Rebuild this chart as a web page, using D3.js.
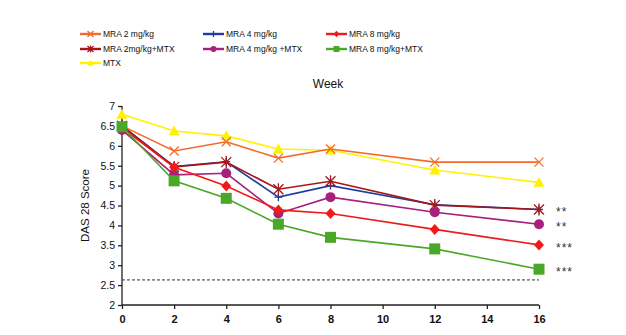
<!DOCTYPE html>
<html>
<head>
<meta charset="utf-8">
<script src="https://d3js.org/d3.v7.min.js"></script>
<style>
  body { margin: 0; background: #fff; }
  text { font-family: "Liberation Sans", Arial, sans-serif; }
</style>
</head>
<body>
<svg width="626" height="335"></svg>
<script>
// data
var weeks = [0, 2, 4, 6, 8, 12, 16];
var mra2     = [6.5, 5.87, 6.1, 5.69, 5.92, 5.59, 5.59];
var mra4     = [6.5, 5.48, 5.6, 4.71, 5.0, 4.52, 4.4];
var mra8     = [6.45, 5.46, 4.99, 4.39, 4.3, 3.9, 3.51];
var mra2mtx  = [6.5, 5.47, 5.59, 4.91, 5.11, 4.51, 4.4];
var mra4mtx  = [6.4, 5.27, 5.31, 4.3, 4.71, 4.33, 4.03];
var mra8mtx  = [6.48, 5.12, 4.68, 4.03, 3.7, 3.41, 2.9];
var mtx      = [6.79, 6.37, 6.25, 5.92, 5.89, 5.39, 5.08];
var yTicks = [2, 2.5, 3, 3.5, 4, 4.5, 5, 5.5, 6, 6.5, 7];
var xTicks = [0, 2, 4, 6, 8, 10, 12, 14, 16];
var remission = 2.63;
var stars = [["**", 4.4], ["**", 4.03], ["***", 3.51], ["***", 2.9]];

var series = [
  {name: "MRA 2 mg/kg", vals: mra2, color: "#f26b2a", mark: "x", col: 0, row: 0},
  {name: "MRA 4 mg/kg", vals: mra4, color: "#1f3d9c", mark: "plus", col: 1, row: 0},
  {name: "MRA 8 mg/kg", vals: mra8, color: "#ee1b1b", mark: "diamond", col: 2, row: 0},
  {name: "MRA 2mg/kg+MTX", vals: mra2mtx, color: "#a3161a", mark: "star", col: 0, row: 1},
  {name: "MRA 4 mg/kg +MTX", vals: mra4mtx, color: "#a6207c", mark: "circle", col: 1, row: 1},
  {name: "MRA 8 mg/kg+MTX", vals: mra8mtx, color: "#4aa828", mark: "square", col: 2, row: 1},
  {name: "MTX", vals: mtx, color: "#fff200", mark: "triangle", col: 0, row: 2}
];
// draw order: back to front
var drawOrder = [6, 0, 1, 3, 4, 2, 5];

var svg = d3.select("svg");
var x = d3.scaleLinear().domain([0, 16]).range([122, 539]);
var y = d3.scaleLinear().domain([2, 7]).range([305, 106]);

// axes
var xAxis = svg.append("g")
    .attr("transform", "translate(0," + y(2) + ")")
    .call(d3.axisBottom(x).tickValues(xTicks).tickSize(4).tickPadding(6).tickFormat(d3.format("d")));
xAxis.selectAll("text").style("font-size", "11px").style("font-weight", "bold").attr("fill", "#111");
var yAxis = svg.append("g")
    .attr("transform", "translate(" + x(0) + ",0)")
    .call(d3.axisLeft(y).tickValues(yTicks).tickSize(4).tickPadding(3).tickFormat(function(d) { return String(d); }));
yAxis.selectAll("text").style("font-size", "10.5px").attr("fill", "#111");
svg.selectAll(".domain, .tick line").attr("stroke", "#222").attr("stroke-width", 1.3);
xAxis.select(".domain").attr("d", "M" + x(0) + ",0H" + x(16));
yAxis.select(".domain").attr("d", "M0," + y(7) + "V" + y(2));

// remission line
svg.append("line")
    .attr("x1", x(0)).attr("x2", x(16))
    .attr("y1", y(remission)).attr("y2", y(remission))
    .attr("stroke", "#333").attr("stroke-width", 1)
    .attr("stroke-dasharray", "3,2");

// titles
svg.append("text").attr("x", 328).attr("y", 88).attr("text-anchor", "middle")
    .style("font-size", "12px").attr("fill", "#111").text("Week");
svg.append("text").attr("transform", "translate(89," + y(4.5) + ") rotate(-90)")
    .attr("text-anchor", "middle").style("font-size", "11.5px").attr("fill", "#111").text("DAS 28 Score");

function drawMarker(g, type, color, size) {
  var s = size;
  if (type === "x") {
    g.append("path").attr("d", "M" + (-s) + "," + (-s) + "L" + s + "," + s + "M" + (-s) + "," + s + "L" + s + "," + (-s))
      .attr("stroke", color).attr("stroke-width", 1.3).attr("fill", "none");
  } else if (type === "plus") {
    g.append("path").attr("d", "M" + (-s) + ",0H" + s + "M0," + (-s) + "V" + s)
      .attr("stroke", color).attr("stroke-width", 1.3).attr("fill", "none");
  } else if (type === "star") {
    g.append("path").attr("d", "M" + (-s) + "," + (-s) + "L" + s + "," + s + "M" + (-s) + "," + s + "L" + s + "," + (-s) + "M0," + (-s * 1.2) + "V" + (s * 1.2))
      .attr("stroke", color).attr("stroke-width", 1.3).attr("fill", "none");
  } else if (type === "diamond") {
    g.append("path").attr("d", "M0," + (-s * 1.1) + "L" + s + ",0L0," + (s * 1.1) + "L" + (-s) + ",0Z")
      .attr("fill", color);
  } else if (type === "circle") {
    g.append("circle").attr("r", s).attr("fill", color);
  } else if (type === "square") {
    g.append("rect").attr("x", -s).attr("y", -s).attr("width", 2 * s).attr("height", 2 * s).attr("fill", color);
  } else if (type === "triangle") {
    g.append("path").attr("d", "M0," + (-s) + "L" + s + "," + (s * 0.8) + "L" + (-s) + "," + (s * 0.8) + "Z").attr("fill", color);
  }
}
var markSize = {x: 4.5, plus: 4, star: 5, diamond: 5, circle: 5, square: 5.5, triangle: 5.5};

var line = d3.line()
    .x(function(d, i) { return x(weeks[i]); })
    .y(function(d) { return y(d); });

drawOrder.forEach(function(k) {
  var s = series[k];
  svg.append("path").datum(s.vals)
    .attr("d", line)
    .attr("fill", "none")
    .attr("stroke", s.color)
    .attr("stroke-width", 1.6);
  s.vals.forEach(function(v, i) {
    var g = svg.append("g").attr("transform", "translate(" + x(weeks[i]) + "," + y(v) + ")");
    drawMarker(g, s.mark, s.color, markSize[s.mark]);
  });
});

// significance stars
svg.selectAll(".sig").data(stars).enter().append("text")
    .attr("class", "sig")
    .attr("x", x(16) + 17)
    .attr("y", function(d) { return y(d[1]) + 7; })
    .style("font-size", "12px").style("letter-spacing", "1px").attr("fill", "#333")
    .text(function(d) { return d[0]; });

// legend
var colX = [80, 203, 326];
var rowY = [34, 49, 63];
series.forEach(function(s) {
  var lx = colX[s.col], ly = rowY[s.row];
  var g = svg.append("g");
  g.append("line").attr("x1", lx).attr("x2", lx + 21).attr("y1", ly).attr("y2", ly)
    .attr("stroke", s.color).attr("stroke-width", 2.4);
  var m = g.append("g").attr("transform", "translate(" + (lx + 10.5) + "," + ly + ")");
  drawMarker(m, s.mark, s.color, 3);
  g.append("text").attr("x", lx + 23).attr("y", ly + 3)
    .style("font-size", "8.5px").attr("fill", "#111").text(s.name);
});
</script>
</body>
</html>
